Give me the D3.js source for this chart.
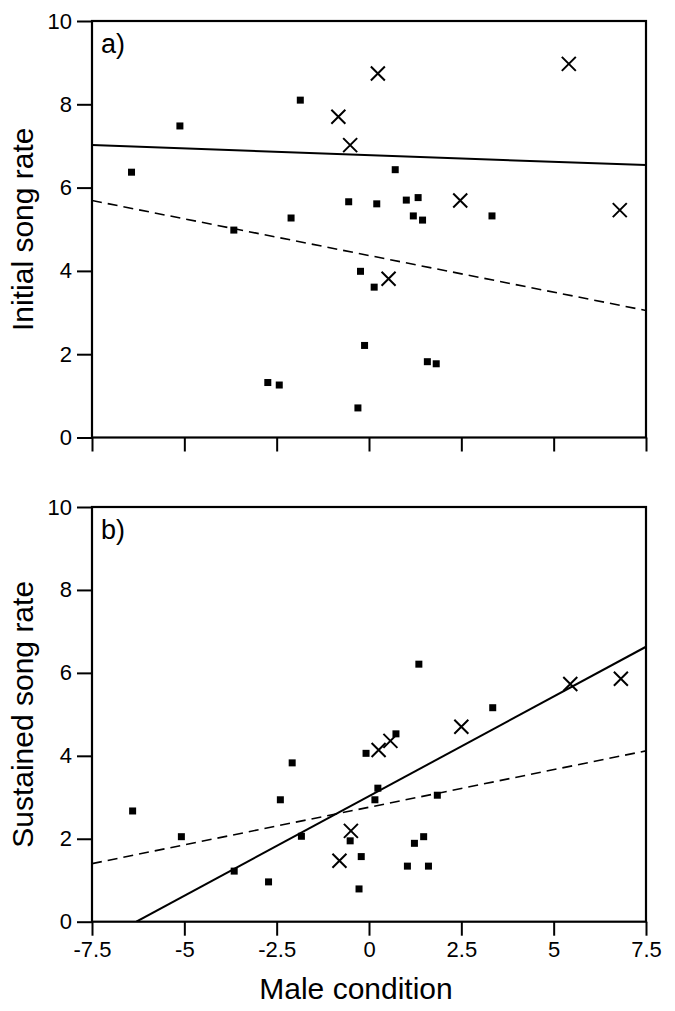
<!DOCTYPE html>
<html>
<head>
<meta charset="utf-8">
<script src="https://cdn.jsdelivr.net/npm/d3@7"></script>
<style>
  html, body { margin: 0; padding: 0; background: #fff; }
  svg { display: block; }
  text { font-family: "Liberation Sans", Arial, Helvetica, sans-serif; fill: #000; }
</style>
</head>
<body>
<svg id="chart" width="675" height="1011"></svg>
<script>
// ---------- data ----------
const xDomain = [-7.5, 7.5];
const yDomain = [0, 10];
const xTicks = [-7.5, -5, -2.5, 0, 2.5, 5, 7.5];
const xTickLabels = ["-7.5", "-5", "-2.5", "0", "2.5", "5", "7.5"];
const yTicks = [0, 2, 4, 6, 8, 10];
const yTickLabels = ["0", "2", "4", "6", "8", "10"];

// Panel a) Initial song rate
const squaresA_x = [-6.43, -5.12, -1.86, -3.66, -2.11, -2.74, -2.43, 0.71, -0.55, 0.21, 1.01, 1.33, 1.20, 1.45, 3.33, -0.23, 0.14, -0.12, 1.58, 1.82, -0.30];
const squaresA_y = [6.37, 7.48, 8.10, 4.98, 5.27, 1.32, 1.26, 6.43, 5.66, 5.61, 5.70, 5.76, 5.32, 5.22, 5.32, 3.99, 3.61, 2.21, 1.82, 1.77, 0.71];
const crossesA_x = [-0.83, 0.24, -0.51, 5.41, 2.47, 6.79, 0.53];
const crossesA_y = [7.70, 8.74, 7.02, 8.97, 5.69, 5.46, 3.81];
const fitSolidA = [[-7.5, 7.02], [7.5, 6.54]];
const fitDashedA = [[-7.5, 5.69], [7.5, 3.05]];

// Panel b) Sustained song rate
const squaresB_x = [-6.40, -5.08, -3.65, -2.72, -2.40, -2.08, -1.83, -0.08, 0.73, 0.24, 0.16, 1.35, 3.35, 1.85, -0.51, -0.21, -0.27, 1.04, 1.23, 1.48, 1.61];
const squaresB_y = [2.67, 2.05, 1.22, 0.96, 2.94, 3.83, 2.06, 4.06, 4.53, 3.22, 2.94, 6.21, 5.16, 3.05, 1.95, 1.57, 0.79, 1.34, 1.89, 2.05, 1.34];
const crossesB_x = [0.26, 0.58, 2.50, 5.45, 6.82, -0.49, -0.80];
const crossesB_y = [4.14, 4.36, 4.70, 5.73, 5.86, 2.19, 1.47];
const fitSolidB = [[-6.30, 0], [7.5, 6.63]];
const fitDashedB = [[-7.5, 1.40], [7.5, 4.12]];

const panels = [
  { label: "a)", title: "Initial song rate", top: 21, bottom: 437.5, showX: false,
    sx: squaresA_x, sy: squaresA_y, cx: crossesA_x, cy: crossesA_y, solid: fitSolidA, dashed: fitDashedA },
  { label: "b)", title: "Sustained song rate", top: 507, bottom: 921.7, showX: true,
    sx: squaresB_x, sy: squaresB_y, cx: crossesB_x, cy: crossesB_y, solid: fitSolidB, dashed: fitDashedB }
];

// ---------- drawing ----------
const svg = d3.select("#chart");
const left = 92, right = 646;
const x = d3.scaleLinear().domain(xDomain).range([left, right]);

panels.forEach((p, i) => {
  const y = d3.scaleLinear().domain(yDomain).range([p.bottom, p.top]);
  const g = svg.append("g");

  const clipId = "clip" + i;
  svg.append("clipPath").attr("id", clipId)
    .append("rect").attr("x", left).attr("y", p.top)
    .attr("width", right - left).attr("height", p.bottom - p.top);

  // y axis
  const yAxis = d3.axisLeft(y).tickValues(yTicks)
    .tickFormat((d, k) => yTickLabels[k])
    .tickSize(15).tickSizeOuter(0).tickPadding(5);
  const gy = g.append("g").attr("transform", `translate(${left},0)`).call(yAxis);
  gy.select(".domain").remove();
  gy.selectAll(".tick line").attr("stroke", "#000").attr("stroke-width", 2);
  gy.selectAll(".tick text").attr("font-size", 22)
    .attr("font-family", "Liberation Sans, Arial, sans-serif").attr("fill", "#000");

  // x axis
  const xAxis = d3.axisBottom(x).tickValues(xTicks)
    .tickFormat((d, k) => p.showX ? xTickLabels[k] : "")
    .tickSize(14).tickSizeOuter(0).tickPadding(6);
  const gx = g.append("g").attr("transform", `translate(0,${p.bottom})`).call(xAxis);
  gx.select(".domain").remove();
  gx.selectAll(".tick line").attr("stroke", "#000").attr("stroke-width", 2);
  gx.selectAll(".tick text").attr("font-size", 22)
    .attr("font-family", "Liberation Sans, Arial, sans-serif").attr("fill", "#000");

  // frame
  g.append("rect")
    .attr("x", x(xDomain[0])).attr("y", y(yDomain[1]))
    .attr("width", x(xDomain[1]) - x(xDomain[0]))
    .attr("height", y(yDomain[0]) - y(yDomain[1]))
    .attr("fill", "none").attr("stroke", "#000").attr("stroke-width", 2.2);

  // regression lines
  const line = d3.line().x(d => x(d[0])).y(d => y(d[1]));
  g.append("path").datum(p.solid).attr("d", line)
    .attr("clip-path", `url(#${clipId})`)
    .attr("fill", "none").attr("stroke", "#000").attr("stroke-width", 2);
  g.append("path").datum(p.dashed).attr("d", line)
    .attr("clip-path", `url(#${clipId})`)
    .attr("fill", "none").attr("stroke", "#000").attr("stroke-width", 1.6)
    .attr("stroke-dasharray", "10,6");

  // squares
  const sq = p.sx.map((v, k) => [v, p.sy[k]]);
  g.selectAll("rect.sq").data(sq).enter().append("rect").attr("class", "sq")
    .attr("x", d => x(d[0]) - 3.5).attr("y", d => y(d[1]) - 3.5)
    .attr("width", 7).attr("height", 7).attr("fill", "#000");

  // crosses
  const cr = p.cx.map((v, k) => [v, p.cy[k]]);
  const h = 7;
  g.selectAll("path.cr").data(cr).enter().append("path").attr("class", "cr")
    .attr("d", d => {
      const px = x(d[0]), py = y(d[1]);
      return `M${px - h},${py - h}L${px + h},${py + h}M${px - h},${py + h}L${px + h},${py - h}`;
    })
    .attr("fill", "none").attr("stroke", "#000").attr("stroke-width", 2);

  // panel label
  g.append("text").attr("x", 101).attr("y", p.top + 32)
    .attr("font-size", 27).text(p.label);

  // y title
  g.append("text")
    .attr("transform", `translate(33,${(p.top + p.bottom) / 2}) rotate(-90)`)
    .attr("text-anchor", "middle").attr("font-size", 30).text(p.title);
});

// x title
svg.append("text").attr("x", 356).attr("y", 999)
  .attr("text-anchor", "middle").attr("font-size", 30).text("Male condition");
</script>
</body>
</html>
